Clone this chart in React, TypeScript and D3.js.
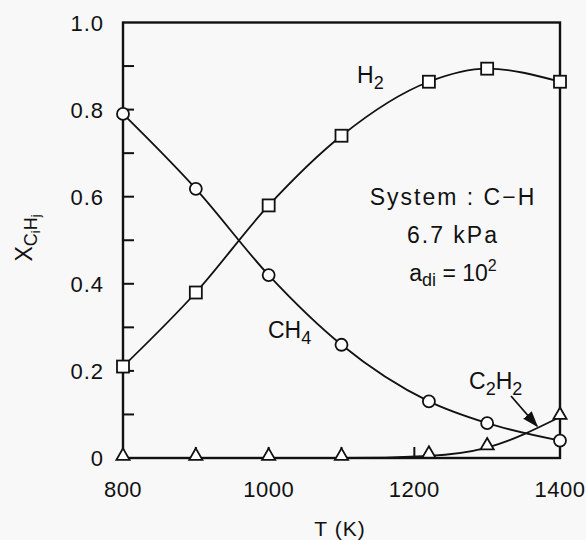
import { useEffect, useRef } from 'react';
import * as d3 from 'd3';

const temps = [800, 900, 1000, 1100, 1220, 1300, 1400];
const ch4 = [0.79, 0.618, 0.42, 0.26, 0.13, 0.08, 0.04];
const h2 = [0.21, 0.38, 0.58, 0.74, 0.864, 0.894, 0.864];
const c2h2 = [0, 0, 0, 0, 0.005, 0.024, 0.094];
const xTickLabels = [800, 1000, 1200, 1400];
const xMinorTicks = [900, 1000, 1100, 1200];
const yTickLabels = [0, 0.2, 0.4, 0.6, 0.8, 1.0];
const yMinorTicks = [0.1, 0.2, 0.3, 0.4, 0.5, 0.6, 0.7, 0.8, 0.9];

const W = 586;
const H = 540;
const FONT = 'Liberation Sans, Arial, sans-serif';

export default function App() {
  const svgRef = useRef<SVGSVGElement>(null);

  useEffect(() => {
    if (!svgRef.current) return;
    const svg = d3.select(svgRef.current);
    svg.selectAll('*').remove();

    const x = d3.scaleLinear().domain([800, 1400]).range([123, 560]);
    const y = d3.scaleLinear().domain([0, 1]).range([458, 22.5]);
    const ink = '#111';

    svg.append('rect').attr('width', W).attr('height', H).attr('fill', '#f8f8f8');

    // frame
    svg.append('rect')
      .attr('x', x(800)).attr('y', y(1))
      .attr('width', x(1400) - x(800)).attr('height', y(0) - y(1))
      .attr('fill', 'none').attr('stroke', ink).attr('stroke-width', 2.4);

    // ticks
    svg.selectAll('.ytick').data(yMinorTicks).enter().append('line')
      .attr('x1', x(800)).attr('x2', x(800) + 11)
      .attr('y1', d => y(d)).attr('y2', d => y(d))
      .attr('stroke', ink).attr('stroke-width', 2);
    svg.selectAll('.xtick').data(xMinorTicks).enter().append('line')
      .attr('x1', d => x(d)).attr('x2', d => x(d))
      .attr('y1', y(0)).attr('y2', y(0) - 11)
      .attr('stroke', ink).attr('stroke-width', 2);

    // tick labels
    svg.selectAll('.ylab').data(yTickLabels).enter().append('text')
      .attr('x', 104).attr('y', d => y(d) + 8)
      .attr('text-anchor', 'end')
      .style('font-family', FONT).style('font-size', '22px').style('letter-spacing', '1px').attr('fill', ink)
      .text(d => (d === 0 ? '0' : d.toFixed(1)));
    svg.selectAll('.xlab').data(xTickLabels).enter().append('text')
      .attr('x', d => x(d)).attr('y', 497)
      .attr('text-anchor', 'middle')
      .style('font-family', FONT).style('font-size', '22px').style('letter-spacing', '0.5px').attr('fill', ink)
      .text(d => String(d));

    // axis titles
    svg.append('text').attr('x', 340).attr('y', 536).attr('text-anchor', 'middle')
      .style('font-family', FONT).style('font-size', '21px').style('letter-spacing', '1px').attr('fill', ink)
      .text('T (K)');

    const yl = svg.append('text')
      .attr('transform', 'translate(32,238) rotate(-90)')
      .attr('text-anchor', 'middle')
      .style('font-family', FONT).style('font-size', '23px').attr('fill', ink);
    yl.append('tspan').text('X');
    yl.append('tspan').attr('dy', 5).style('font-size', '18px').text('C');
    yl.append('tspan').attr('dy', 3).style('font-size', '13px').text('i');
    yl.append('tspan').attr('dy', -3).style('font-size', '18px').text('H');
    yl.append('tspan').attr('dy', 3).style('font-size', '13px').text('j');

    // curves
    const mk = (vals: number[]) => temps.map((t, i) => [t, vals[i]] as [number, number]);
    const line = d3.line<[number, number]>().x(d => x(d[0])).y(d => y(d[1])).curve(d3.curveMonotoneX);
    [ch4, h2, c2h2].forEach(vals => {
      svg.append('path').attr('d', line(mk(vals)))
        .attr('fill', 'none').attr('stroke', ink).attr('stroke-width', 1.8);
    });

    // markers
    svg.selectAll('.m-ch4').data(mk(ch4)).enter().append('circle')
      .attr('cx', d => x(d[0])).attr('cy', d => y(d[1])).attr('r', 6)
      .attr('fill', '#fff').attr('stroke', ink).attr('stroke-width', 1.8);
    svg.selectAll('.m-h2').data(mk(h2)).enter().append('rect')
      .attr('x', d => x(d[0]) - 6).attr('y', d => y(d[1]) - 6)
      .attr('width', 12).attr('height', 12)
      .attr('fill', '#fff').attr('stroke', ink).attr('stroke-width', 1.8);
    const tri = d3.symbol().type(d3.symbolTriangle).size(75);
    svg.selectAll('.m-c2h2').data(mk(c2h2)).enter().append('path')
      .attr('d', tri())
      .attr('transform', d => `translate(${x(d[0])},${y(d[1]) - 2})`)
      .attr('fill', '#fff').attr('stroke', ink).attr('stroke-width', 1.8);

    // series labels
    const lab = (tx: number, ty: number, main: string[], size = 23) => {
      const t = svg.append('text').attr('x', tx).attr('y', ty)
        .style('font-family', FONT).style('font-size', `${size}px`).attr('fill', ink);
      main.forEach((s, i) => {
        if (i % 2 === 0) t.append('tspan').attr('dy', i === 0 ? 0 : -6).style('font-size', `${size}px`).text(s);
        else t.append('tspan').attr('dy', 6).style('font-size', '18px').text(s);
      });
    };
    lab(357, 83, ['H', '2']);
    lab(268, 338, ['CH', '4']);
    lab(469, 389, ['C', '2', 'H', '2']);

    // arrow
    svg.append('defs').append('marker').attr('id', 'ah')
      .attr('viewBox', '0 0 10 10').attr('refX', 9).attr('refY', 5)
      .attr('markerWidth', 9).attr('markerHeight', 9).attr('orient', 'auto')
      .append('path').attr('d', 'M0,1.5 L10,5 L0,8.5 Z').attr('fill', ink);
    svg.append('line').attr('x1', 511).attr('y1', 396).attr('x2', 537).attr('y2', 426)
      .attr('stroke', ink).attr('stroke-width', 1.8).attr('marker-end', 'url(#ah)');

    // annotation block
    const cx = 453;
    const ann = (ty: number) => svg.append('text').attr('x', cx).attr('y', ty).attr('text-anchor', 'middle')
      .style('font-family', FONT).style('font-size', '23px').style('letter-spacing', '2px').attr('fill', ink);
    ann(205).text('System : C\u2212H');
    ann(243).text('6.7 kPa');
    const a = ann(281).style('letter-spacing', '0px');
    a.append('tspan').text('a');
    a.append('tspan').attr('dy', 5).style('font-size', '18px').text('di');
    a.append('tspan').attr('dy', -5).text(' = 10');
    a.append('tspan').attr('dy', -10).style('font-size', '16px').text('2');
  }, []);

  return (
    <div style={{ position: 'absolute', left: 0, top: 0 }}>
      <svg ref={svgRef} width={W} height={H} style={{ display: 'block' }} />
    </div>
  );
}
